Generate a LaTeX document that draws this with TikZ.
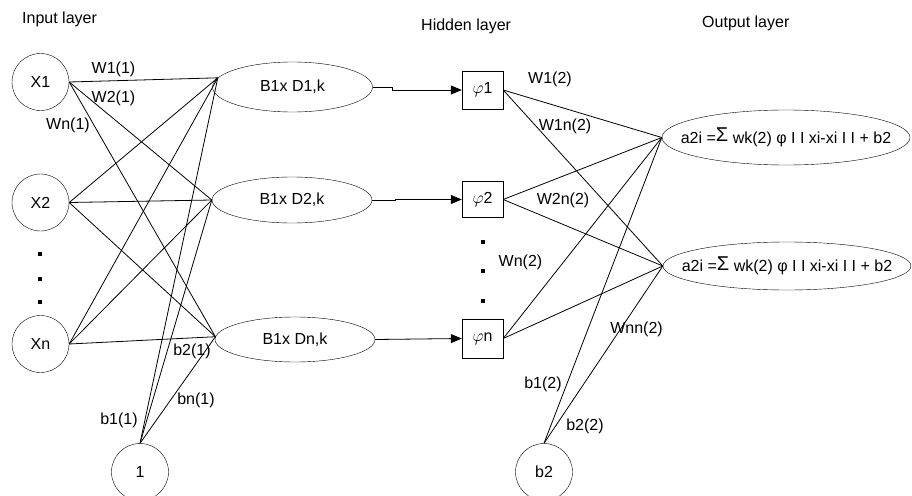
\documentclass[tikz,border=0pt]{standalone}
\usepackage{fontspec}
\setmainfont{Liberation Sans}
\usetikzlibrary{shapes.geometric,arrows.meta}

\begin{document}
\begin{tikzpicture}[x=1pt,y=-1pt,
  every node/.style={font=\fontsize{16}{19}\selectfont},
  unit/.style={draw,circle,minimum size=57pt,inner sep=0pt},
  kernel/.style={draw,ellipse,minimum width=160pt,inner sep=0pt},
  rbf/.style={draw,rectangle,minimum width=41pt,minimum height=38pt,inner sep=0pt},
  outnode/.style={draw,ellipse,minimum width=248pt,inner sep=0pt},
  wire/.style={line width=0.8pt},
  feed/.style={wire,-{Triangle[length=11pt,width=9pt]}},
  lbl/.style={inner sep=0pt},
  dotmark/.style={fill,minimum size=3.6pt,inner sep=0pt}]

\useasboundingbox (0,0) rectangle (912,495);

% layer titles
\node[lbl,anchor=base west] (tin)  at (22,23.3)  {Input layer};
\node[lbl,anchor=base west] (thid) at (421,30.7) {Hidden layer};
\node[lbl,anchor=base west] (tout) at (702,28)   {Output layer};

% input units and bias
\node[unit] (x1)  at (40.5,82)  {X1};
\node[unit] (x2)  at (40.5,202.5) {X2};
\node[unit] (xn)  at (40.5,344) {Xn};
\node[unit] (one) at (140,472)  {1};

\node[dotmark] (ld1) at (40,254) {};
\node[dotmark] (ld2) at (40,279) {};
\node[dotmark] (ld3) at (40,302) {};

% distance units
\node[kernel,minimum height=50pt] (e1) at (292.5,87)  {\makebox[0pt]{B1x D1,k}};
\node[kernel,minimum height=46pt] (e2) at (292,200)   {\makebox[0pt]{B1x D2,k}};
\node[kernel,minimum height=45pt] (e3) at (295,339.5) {\makebox[0pt]{B1x Dn,k}};

% radial basis units
\node[rbf] (p1) at (482.5,90)  {$\varphi$1};
\node[rbf,minimum height=36pt] (p2) at (482.5,199.5) {$\varphi$2};
\node[rbf,minimum height=39pt] (pn) at (482.5,338.5) {$\varphi$n};

\node[dotmark] (md1) at (483,242) {};
\node[dotmark] (md2) at (483,271) {};
\node[dotmark] (md3) at (483,301) {};

% output units and bias
\newcommand{\outsum}{a2i =\raisebox{1.5pt}{\fontsize{20}{20}\selectfont Σ} wk(2) φ I I xi-xi I I + b2}
\node[outnode,minimum height=55pt] (o1) at (786,137.5) {\makebox[0pt]{\outsum}};
\node[outnode,minimum height=48pt] (o2) at (787,266)   {\makebox[0pt]{\outsum}};
\node[unit] (b2) at (544,472) {b2};

% input -> distance connections
\foreach \s in {x1,x2,xn} {
  \draw[wire] (\s.east) -- (e1.173);
  \draw[wire] (\s.east) -- (e2.west);
  \draw[wire] (\s.east) -- (e3.178);
}
\draw[wire] (one.north) -- (e1.173);
\draw[wire] (one.north) -- (e2.west);
\draw[wire] (one.north) -- (e3.178);

% distance -> radial basis
\draw[feed] (e1.east) -- ++(20,0) |- (p1.west);
\draw[feed] (e2.east) -- ++(23,0) |- (p2.west);
\draw[feed] (e3.east) -- (pn.west);

% radial basis -> outputs
\foreach \s in {p1,p2,pn} {
  \draw[wire] (\s.east) -- (o1.west);
  \draw[wire] (\s.east) -- (o2.west);
}
\draw[wire] (b2.north) -- (o1.west);
\draw[wire] (b2.north) -- (o2.west);

% weight labels
\node[lbl] (w11) at (113.5,69)  {W1(1)};
\node[lbl] (w21) at (113.5,98)  {W2(1)};
\node[lbl] (wn1) at (68,125)    {Wn(1)};
\node[lbl] (bb2) at (192,351.5) {b2(1)};
\node[lbl] (bbn) at (196,400.5) {bn(1)};
\node[lbl] (bb1) at (119,420.5) {b1(1)};
\node[lbl] (w12) at (550,79.5)  {W1(2)};
\node[lbl] (w1n) at (565,126)   {W1n(2)};
\node[lbl] (w2n) at (563,200.5) {W2n(2)};
\node[lbl] (wn2) at (520.5,262.5) {Wn(2)};
\node[lbl] (wnn) at (636.5,329) {Wnn(2)};
\node[lbl] (c12) at (543,384.5) {b1(2)};
\node[lbl] (c22) at (585,426.5) {b2(2)};
\end{tikzpicture}
\end{document}
